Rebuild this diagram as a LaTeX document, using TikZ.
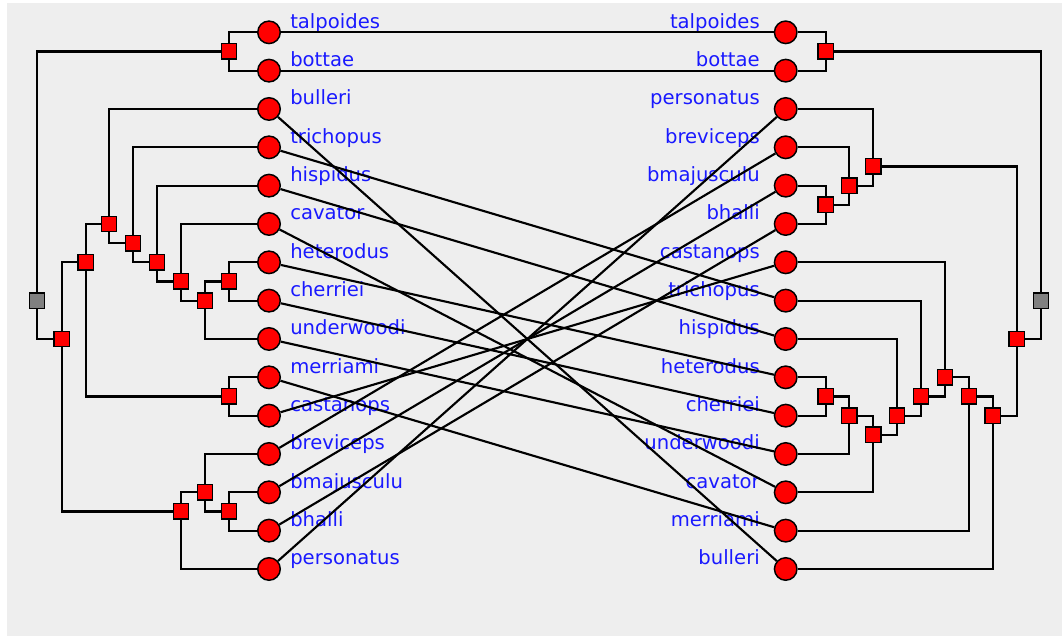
\documentclass[tikz,border=0pt]{standalone}
\usepackage{fontspec}
\newfontfamily\taxonfont{DejaVu Sans}
\definecolor{taxonblue}{RGB}{25,25,255}
\definecolor{panelgray}{RGB}{238,238,238}
\definecolor{rootgray}{RGB}{128,128,128}

\begin{document}
\begin{tikzpicture}
[
  x=0.75pt, y=-28.75pt,
  leaf/.style={circle, draw=black, fill=red, line width=1.1pt, minimum size=16.9pt, inner sep=0pt},
  split/.style={rectangle, draw=black, fill=red, line width=1.1pt, minimum size=11.6pt, inner sep=0pt},
  rootsplit/.style={split, fill=rootgray},
  taxon/.style={text=taxonblue, inner sep=0pt, font=\fontsize{14.7}{17}\selectfont\taxonfont},
  branch/.style={line width=1.6pt}
]
 % panel
 \useasboundingbox (0,-0.843) rectangle (1063,15.776);
 \fill[panelgray] (7,-0.764) rectangle (1062,15.75);

 % leaves, left tree
 \foreach \n [count=\i from 0] in {talpoides,bottae,bulleri,trichopus,hispidus,cavator,heterodus,cherriei,underwoodi,merriami,castanops,breviceps,bmajusculu,bhalli,personatus}
 {
   \node[taxon, anchor=base west, yshift=3pt] (Ltxt\n) at (290,\i) {\n};
 }
 % leaves, right tree
 \foreach \n [count=\i from 0] in {talpoides,bottae,personatus,breviceps,bmajusculu,bhalli,castanops,trichopus,hispidus,heterodus,cherriei,underwoodi,cavator,merriami,bulleri}
 {
   \node[taxon, anchor=base east, yshift=3pt] (Rtxt\n) at (760,\i) {\n};
 }

 % left splits
 \node[rootsplit] (lroot) at (37,7) {};
 \node[split] (l0) at (229,0.5) {};
 \node[split] (l1) at (109,5) {};
 \node[split] (l2) at (133,5.5) {};
 \node[split] (l3) at (157,6) {};
 \node[split] (l4) at (181,6.5) {};
 \node[split] (l5) at (205,7) {};
 \node[split] (l6) at (229,6.5) {};
 \node[split] (l7) at (85.7,6) {};
 \node[split] (l8) at (229,9.5) {};
 \node[split] (l9) at (61.7,8) {};
 \node[split] (l10) at (181,12.5) {};
 \node[split] (l11) at (205,12) {};
 \node[split] (l12) at (229,12.5) {};

 % right splits
 \node[rootsplit] (rroot) at (1041,7) {};
 \node[split] (r0) at (825.7,0.5) {};
 \node[split] (r1) at (873.3,3.5) {};
 \node[split] (r2) at (849.3,4) {};
 \node[split] (r3) at (825.7,4.5) {};
 \node[split] (r4) at (825.7,9.5) {};
 \node[split] (r5) at (849.3,10) {};
 \node[split] (r6) at (873.3,10.5) {};
 \node[split] (r7) at (897,10) {};
 \node[split] (r8) at (921,9.5) {};
 \node[split] (r9) at (945,9) {};
 \node[split] (r10) at (969,9.5) {};
 \node[split] (r11) at (992.7,10) {};
 \node[split] (r12) at (1016.7,8) {};

 \foreach \n [count=\i from 0] in {talpoides,bottae,bulleri,trichopus,hispidus,cavator,heterodus,cherriei,underwoodi,merriami,castanops,breviceps,bmajusculu,bhalli,personatus}
   \node[leaf] (L\n) at (269,\i) {};
 \foreach \n [count=\i from 0] in {talpoides,bottae,personatus,breviceps,bmajusculu,bhalli,castanops,trichopus,hispidus,heterodus,cherriei,underwoodi,cavator,merriami,bulleri}
   \node[leaf] (R\n) at (785.7,\i) {};

 % left tree
 \draw[branch]
   (lroot) |- (l0)  (lroot) |- (l9)
   (l0) |- (Ltalpoides)  (l0) |- (Lbottae)
   (l9) |- (l7)  (l9) |- (l10)
   (l7) |- (l1)  (l7) |- (l8)
   (l1) |- (Lbulleri)  (l1) |- (l2)
   (l2) |- (Ltrichopus)  (l2) |- (l3)
   (l3) |- (Lhispidus)  (l3) |- (l4)
   (l4) |- (Lcavator)  (l4) |- (l5)
   (l5) |- (l6)  (l5) |- (Lunderwoodi)
   (l6) |- (Lheterodus)  (l6) |- (Lcherriei)
   (l8) |- (Lmerriami)  (l8) |- (Lcastanops)
   (l10) |- (l11)  (l10) |- (Lpersonatus)
   (l11) |- (Lbreviceps)  (l11) |- (l12)
   (l12) |- (Lbmajusculu)  (l12) |- (Lbhalli);

 % right tree
 \draw[branch]
   (rroot) |- (r0)  (rroot) |- (r12)
   (r0) |- (Rtalpoides)  (r0) |- (Rbottae)
   (r12) |- (r1)  (r12) |- (r11)
   (r1) |- (Rpersonatus)  (r1) |- (r2)
   (r2) |- (Rbreviceps)  (r2) |- (r3)
   (r3) |- (Rbmajusculu)  (r3) |- (Rbhalli)
   (r11) |- (r10)  (r11) |- (Rbulleri)
   (r10) |- (r9)  (r10) |- (Rmerriami)
   (r9) |- (Rcastanops)  (r9) |- (r8)
   (r8) |- (Rtrichopus)  (r8) |- (r7)
   (r7) |- (Rhispidus)  (r7) |- (r6)
   (r6) |- (r5)  (r6) |- (Rcavator)
   (r5) |- (r4)  (r5) |- (Runderwoodi)
   (r4) |- (Rheterodus)  (r4) |- (Rcherriei);

 % links between the two trees
 \foreach \n in {talpoides,bottae,bulleri,trichopus,hispidus,cavator,heterodus,cherriei,underwoodi,merriami,castanops,breviceps,bmajusculu,bhalli,personatus}
   \draw[branch] (L\n) -- (R\n);
\end{tikzpicture}
\end{document}
